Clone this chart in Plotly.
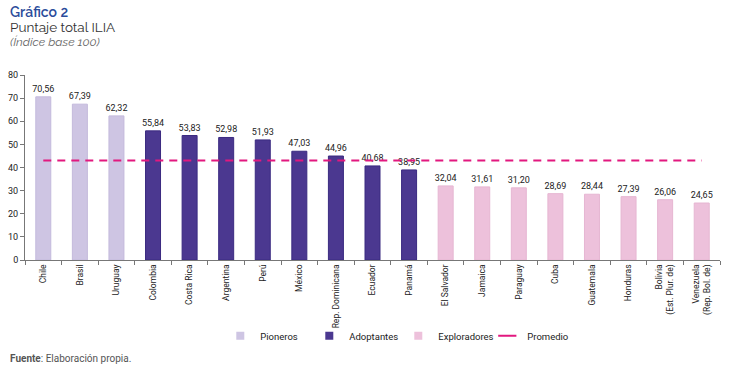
import plotly.graph_objects as go

categories = ["Chile", "Brasil", "Uruguay", "Colombia", "Costa Rica", "Argentina", "Perú",
              "México", "Rep. Dominicana", "Ecuador", "Panamá", "El Salvador", "Jamaica",
              "Paraguay", "Cuba", "Guatemala", "Honduras", "Bolivia<br>(Est. Plur. de)",
              "Venezuela<br>(Rep. Bol. de)"]
values = [70.56, 67.39, 62.32, 55.84, 53.83, 52.98, 51.93, 47.03, 44.96, 40.68, 38.95,
          32.04, 31.61, 31.20, 28.69, 28.44, 27.39, 26.06, 24.65]
groups = ["Pioneros"] * 3 + ["Adoptantes"] * 8 + ["Exploradores"] * 8
promedio = 42.98
y_ticks = [0, 10, 20, 30, 40, 50, 60, 70, 80]

colors = {"Pioneros": "#CEC5E3", "Adoptantes": "#4B3890", "Exploradores": "#EDC1DB"}
lines = {"Pioneros": "#C4BADC", "Adoptantes": "#3A2A80", "Exploradores": "#E6B6D2"}
PROM = "#E2187F"

FONT = "Roboto, Liberation Sans, sans-serif"

fig = go.Figure()
for g in ["Pioneros", "Adoptantes", "Exploradores"]:
    xs = [c for c, gg in zip(categories, groups) if gg == g]
    ys = [v for v, gg in zip(values, groups) if gg == g]
    fig.add_trace(go.Bar(
        x=xs, y=ys, name=g, width=0.41, showlegend=False,
        marker=dict(color=colors[g], line=dict(color=lines[g], width=1)),
        text=[f"{v:.2f}".replace(".", ",") for v in ys],
        textposition="outside", cliponaxis=False, constraintext="none",
        textfont=dict(size=9, color="#222", family=FONT),
    ))

fig.add_trace(go.Scatter(
    x=categories, y=[promedio] * len(categories), mode="lines", name="Promedio",
    showlegend=False, line=dict(color=PROM, width=2, dash="8px,6px"),
))

# legend entries
for g in ["Pioneros", "Adoptantes", "Exploradores"]:
    fig.add_trace(go.Scatter(x=[None], y=[None], mode="markers", name=g,
                             marker=dict(symbol="square", size=8, color=colors[g])))
fig.add_trace(go.Scatter(x=[None], y=[None], mode="markers", name="Promedio",
                         marker=dict(symbol="line-ew-open", size=13, color=PROM,
                                     line=dict(color=PROM, width=2))))

fig.update_layout(
    width=730, height=373,
    margin=dict(l=25, r=10, t=75, b=113),
    paper_bgcolor="white", plot_bgcolor="white",
    barmode="overlay",
    font=dict(family=FONT, size=9, color="#222"),
    showlegend=True,
    legend=dict(orientation="h", x=0.281, xanchor="left", y=-0.41, yanchor="middle",
                font=dict(size=9.5, family=FONT, color="#222"), itemwidth=30,
                entrywidth=44, entrywidthmode="pixels",
                traceorder="normal", bgcolor="rgba(0,0,0,0)"),
    xaxis=dict(type="category", categoryorder="array", categoryarray=categories,
               tickson="boundaries", ticks="outside", ticklen=4, tickcolor="#777",
               showline=True, linecolor="#777", linewidth=1, tickangle=-90,
               tickfont=dict(size=8.5, family=FONT, color="#222"), showgrid=False,
               range=[-0.5, len(categories) - 0.5], automargin=False),
    yaxis=dict(range=[0, 80], tickvals=y_ticks, ticks="outside", ticklen=4, tickcolor="#777",
               showline=True, linecolor="#777", linewidth=1, showgrid=False, zeroline=False,
               tickfont=dict(size=9, family=FONT, color="#222"), automargin=False),
)

TF = "Raleway, Lato, Open Sans, sans-serif"
fig.add_annotation(text="Gráfico 2", xref="paper", yref="paper", x=0, y=1.0,
                   xanchor="left", yanchor="middle", yshift=63, xshift=-17, showarrow=False,
                   font=dict(size=14, color="#2B4C9B", family=TF, weight=600))
fig.add_annotation(text="Puntaje total ILIA", xref="paper", yref="paper", x=0, y=1.0,
                   xanchor="left", yanchor="middle", yshift=48, xshift=-17, showarrow=False,
                   font=dict(size=13.5, color="#333", family=TF))
fig.add_annotation(text="<i>(Índice base 100)</i>", xref="paper", yref="paper", x=0, y=1.0,
                   xanchor="left", yanchor="middle", yshift=33, xshift=-17, showarrow=False,
                   font=dict(size=12, color="#666", family=TF))
fig.add_annotation(text="<b>Fuente</b>: Elaboración propia.", xref="paper", yref="paper",
                   x=0, y=0, xanchor="left", yanchor="middle", yshift=-98, xshift=-17,
                   showarrow=False, font=dict(size=10, color="#555", family=FONT))

fig.write_html("out.html", config={"displayModeBar": False},
               post_script="document.body.style.margin='0';")
